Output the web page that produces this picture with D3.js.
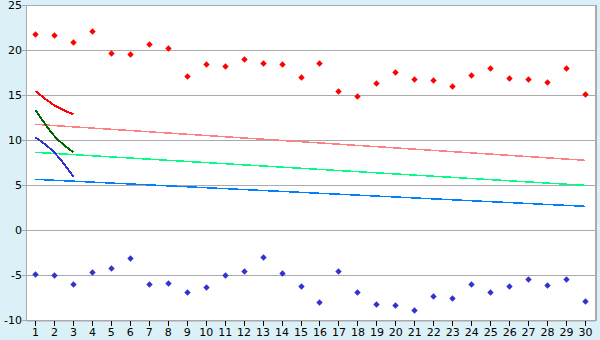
<!DOCTYPE html>
<html><head><meta charset="utf-8">
<script src="https://cdn.jsdelivr.net/npm/d3@7"></script>
<style>
html,body{margin:0;padding:0;background:#dcf0f7;}
svg{display:block;}
text{font-family:"DejaVu Sans",sans-serif;font-size:11px;fill:#000;}
</style></head><body>
<svg id="c" width="600" height="340"></svg>
<script>
const categories = d3.range(1, 31);
const yTicks = [-10, -5, 0, 5, 10, 15, 20, 25];
const redPoints = [21.74,21.63,20.85,22.07,19.63,19.52,20.63,20.19,17.07,18.41,18.19,18.96,18.52,18.41,16.96,18.52,15.41,14.85,16.3,17.52,16.74,16.63,15.96,17.19,17.96,16.85,16.74,16.41,17.96,15.07];
const bluePoints = [-4.93,-5.04,-6.04,-4.7,-4.26,-3.15,-6.04,-5.93,-6.93,-6.37,-5.04,-4.59,-3.04,-4.81,-6.26,-8.04,-4.59,-6.93,-8.26,-8.37,-8.93,-7.37,-7.59,-6.04,-6.93,-6.26,-5.48,-6.15,-5.48,-7.93];
const redCurveX = [1, 2, 3];
const redCurve = [15.44, 13.85, 12.85];
const greenCurve = [13.33, 10.44, 8.63];
const blueCurve = [10.3, 8.6, 5.93];
const trendX = [1, 30];
const pinkTrend = [11.74, 7.74];
const lightGreenTrend = [8.63, 4.96];
const lightBlueTrend = [5.63, 2.63];

const svg = d3.select("#c");
const L = 26, R = 595, T = 5, B = 320;
const x = d3.scaleBand().domain(categories).range([L, R]);
const xc = d => x(d) + x.bandwidth() / 2;
const y = d3.scaleLinear().domain([-10, 25]).range([B, T]);

svg.append("rect").attr("x", L).attr("y", T).attr("width", R - L).attr("height", B - T).attr("fill", "#fff");

// grid
svg.append("g").selectAll("line").data(yTicks).join("line")
  .attr("x1", L - 4).attr("x2", R).attr("y1", d => Math.round(y(d)) + 0.5).attr("y2", d => Math.round(y(d)) + 0.5)
  .attr("stroke", "#aaaaaa").attr("stroke-width", 1).attr("shape-rendering", "crispEdges");

// borders
svg.append("line").attr("x1", L + 0.5).attr("x2", L + 0.5).attr("y1", T).attr("y2", B + 1).attr("stroke", "#aaaaaa").attr("shape-rendering", "crispEdges");
svg.append("line").attr("x1", R + 0.5).attr("x2", R + 0.5).attr("y1", T).attr("y2", B + 1).attr("stroke", "#aaaaaa").attr("stroke-width", 2).attr("shape-rendering", "crispEdges");

// x axis
const xAxis = d3.axisBottom(x).tickSize(5).tickPadding(3).tickSizeOuter(0);
const gx = svg.append("g").attr("transform", `translate(0,${Math.round(y(-10)) + 0.5})`).call(xAxis);
gx.select(".domain").attr("stroke", "#aaaaaa");
gx.selectAll(".tick line").attr("stroke", "#000").attr("shape-rendering", "crispEdges");
gx.selectAll("text").attr("font-size", 11).attr("font-family", "DejaVu Sans, sans-serif");

// y axis labels
const yAxis = d3.axisLeft(y).tickValues(yTicks).tickSize(0).tickPadding(4).tickFormat(d3.format("d"));
const gy = svg.append("g").attr("transform", `translate(${L},0)`).call(yAxis);
gy.select(".domain").remove();
gy.selectAll("text").attr("font-size", 11).attr("font-family", "DejaVu Sans, sans-serif");
gy.selectAll("text").text(d => String(d));

// lines
const line = d3.line().x(d => xc(d[0])).y(d => y(d[1]));
const curve = d3.line().x(d => xc(d[0])).y(d => y(d[1])).curve(d3.curveMonotoneX);
function drawTrend(vals, color) {
  svg.append("path").datum(trendX.map((k, i) => [k, vals[i]])).attr("d", line)
    .attr("fill", "none").attr("stroke", color).attr("stroke-width", 1.5).attr("shape-rendering", "crispEdges");
}
drawTrend(pinkTrend, "#ff8080");
drawTrend(lightGreenTrend, "#00ff80");
drawTrend(lightBlueTrend, "#0080ff");
function drawCurve(vals, color) {
  svg.append("path").datum(redCurveX.map((k, i) => [k, vals[i]])).attr("d", curve)
    .attr("fill", "none").attr("stroke", color).attr("stroke-width", 2).attr("shape-rendering", "crispEdges");
}
drawCurve(redCurve, "#ff0000");
drawCurve(greenCurve, "#006400");
drawCurve(blueCurve, "#3333cc");

// markers (small diamond)
const marker = "M0,-3.2L3.2,0L0,3.2L-3.2,0Z";
function drawPoints(vals, color) {
  svg.append("g").selectAll("path").data(vals).join("path")
    .attr("transform", (d, i) => `translate(${Math.floor(xc(categories[i])) + 0.5},${Math.round(y(d)) + 0.5})`)
    .attr("d", marker).attr("fill", color);
}
drawPoints(redPoints, "#ff0000");
drawPoints(bluePoints, "#3333cc");
</script>
</body></html>
